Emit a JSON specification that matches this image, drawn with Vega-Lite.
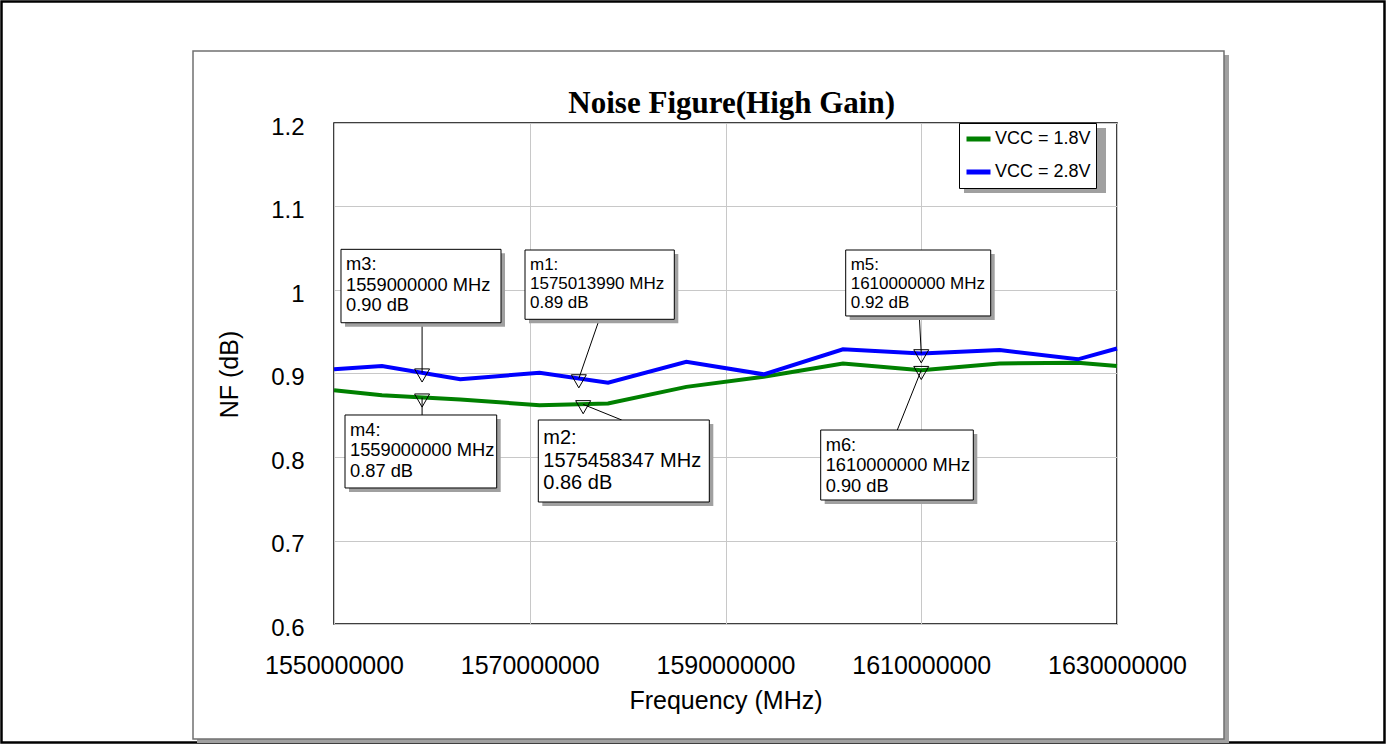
{
  "$schema": "https://vega.github.io/schema/vega-lite/v6.json",
  "width": 783,
  "height": 501,
  "autosize": {"type": "none"},
  "padding": {"left": 334, "top": 123, "right": 274, "bottom": 120},
  "background": "white",
  "config": {
    "view": {"stroke": "#000", "strokeWidth": 1.5},
    "font": "Liberation Sans",
    "axis": {
      "domain": false,
      "ticks": false,
      "tickSize": 0,
      "grid": true,
      "gridColor": "#c8c8c8",
      "gridWidth": 1,
      "labelColor": "#000",
      "titleColor": "#000",
      "labelFont": "Liberation Sans",
      "titleFont": "Liberation Sans",
      "titleFontWeight": "normal"
    }
  },
  "datasets": {
    "nf": [
      {"series": "VCC = 1.8V", "freq": 1550000000, "nf": 0.880},
      {"series": "VCC = 1.8V", "freq": 1554900000, "nf": 0.874},
      {"series": "VCC = 1.8V", "freq": 1562900000, "nf": 0.869},
      {"series": "VCC = 1.8V", "freq": 1571000000, "nf": 0.862},
      {"series": "VCC = 1.8V", "freq": 1578000000, "nf": 0.864},
      {"series": "VCC = 1.8V", "freq": 1586000000, "nf": 0.884},
      {"series": "VCC = 1.8V", "freq": 1593900000, "nf": 0.896},
      {"series": "VCC = 1.8V", "freq": 1602000000, "nf": 0.912},
      {"series": "VCC = 1.8V", "freq": 1610000000, "nf": 0.904},
      {"series": "VCC = 1.8V", "freq": 1618000000, "nf": 0.912},
      {"series": "VCC = 1.8V", "freq": 1626000000, "nf": 0.913},
      {"series": "VCC = 1.8V", "freq": 1630000000, "nf": 0.909},
      {"series": "VCC = 2.8V", "freq": 1550000000, "nf": 0.905},
      {"series": "VCC = 2.8V", "freq": 1554900000, "nf": 0.909},
      {"series": "VCC = 2.8V", "freq": 1562900000, "nf": 0.893},
      {"series": "VCC = 2.8V", "freq": 1571000000, "nf": 0.901},
      {"series": "VCC = 2.8V", "freq": 1578000000, "nf": 0.889},
      {"series": "VCC = 2.8V", "freq": 1586000000, "nf": 0.914},
      {"series": "VCC = 2.8V", "freq": 1593900000, "nf": 0.899},
      {"series": "VCC = 2.8V", "freq": 1602000000, "nf": 0.929},
      {"series": "VCC = 2.8V", "freq": 1610000000, "nf": 0.924},
      {"series": "VCC = 2.8V", "freq": 1618000000, "nf": 0.928},
      {"series": "VCC = 2.8V", "freq": 1626000000, "nf": 0.917},
      {"series": "VCC = 2.8V", "freq": 1630000000, "nf": 0.930}
    ],
    "markers": [
      {"marker": "m1", "freq": 1575013990, "nf": 0.894, "callout_f0": 1569515000, "callout_f1": 1584769000, "callout_top": 1.0479, "callout_bottom": 0.9649, "lead_f": 1577106000, "lead_nf": 0.9649},
      {"marker": "m2", "freq": 1575458347, "nf": 0.863, "callout_f0": 1570874000, "callout_f1": 1588345000, "callout_top": 0.8443, "callout_bottom": 0.7461, "lead_f": 1579395000, "lead_nf": 0.8443},
      {"marker": "m3", "freq": 1559000000, "nf": 0.901, "callout_f0": 1550715000, "callout_f1": 1567063000, "callout_top": 1.0487, "callout_bottom": 0.9608, "lead_f": 1559000000, "lead_nf": 0.9608},
      {"marker": "m4", "freq": 1559000000, "nf": 0.871, "callout_f0": 1551124000, "callout_f1": 1566623000, "callout_top": 0.8503, "callout_bottom": 0.7629, "lead_f": 1559000000, "lead_nf": 0.8503},
      {"marker": "m5", "freq": 1610000000, "nf": 0.924, "callout_f0": 1602281000, "callout_f1": 1617096000, "callout_top": 1.0479, "callout_bottom": 0.9689, "lead_f": 1609801000, "lead_nf": 0.9689},
      {"marker": "m6", "freq": 1610000000, "nf": 0.904, "callout_f0": 1599727000, "callout_f1": 1615318000, "callout_top": 0.8323, "callout_bottom": 0.7485, "lead_f": 1607553000, "lead_nf": 0.8323}
    ]
  },
  "layer": [
    {
      "data": {"values": [{}]},
      "mark": {"type": "rect", "filled": false, "color": "#000", "strokeWidth": 2.5},
      "encoding": {
        "x": {"datum": 1516028109, "type": "quantitative"},
        "x2": {"datum": 1657330741},
        "y": {"datum": 1.345509, "type": "quantitative"},
        "y2": {"datum": 0.458084}
      }
    },
    {
      "data": {"values": [{}]},
      "mark": {"type": "rect", "color": "#a0a0a0"},
      "encoding": {
        "x": {"datum": 1640932279, "type": "quantitative"},
        "x2": {"datum": 1641443135},
        "y": {"datum": 1.281437, "type": "quantitative"},
        "y2": {"datum": 0.457485}
      }
    },
    {
      "data": {"values": [{}]},
      "mark": {"type": "rect", "color": "#a0a0a0"},
      "encoding": {
        "x": {"datum": 1536002559, "type": "quantitative"},
        "x2": {"datum": 1641443135},
        "y": {"datum": 0.462275, "type": "quantitative"},
        "y2": {"datum": 0.457485}
      }
    },
    {
      "data": {"values": [{}]},
      "mark": {"type": "rect", "filled": false, "color": "#707070", "strokeWidth": 1.5},
      "encoding": {
        "x": {"datum": 1535593875, "type": "quantitative"},
        "x2": {"datum": 1640932279},
        "y": {"datum": 1.28623, "type": "quantitative"},
        "y2": {"datum": 0.46228}
      }
    },
    {
      "data": {"name": "nf"},
      "mark": {"type": "line", "strokeWidth": 4},
      "encoding": {
        "x": {
          "field": "freq",
          "type": "quantitative",
          "scale": {"domain": [1550000000, 1630000000], "nice": false, "zero": false},
          "axis": {
            "title": "Frequency (MHz)",
            "values": [1550000000, 1570000000, 1590000000, 1610000000, 1630000000],
            "format": "d",
            "labelFlush": false,
            "labelOverlap": false,
            "labelFontSize": 25,
            "labelBaseline": "alphabetic",
            "labelPadding": 49,
            "titleFontSize": 25,
            "titleX": 391.5,
            "titleY": 84,
            "titleBaseline": "alphabetic",
            "titleAlign": "center",
            "titleAngle": 0
          }
        },
        "y": {
          "field": "nf",
          "type": "quantitative",
          "scale": {"domain": [0.6, 1.2], "nice": false, "zero": false},
          "axis": {
            "title": "NF (dB)",
            "values": [0.6, 0.7, 0.8, 0.9, 1, 1.1, 1.2],
            "format": "~g",
            "labelFlush": false,
            "labelOverlap": false,
            "labelFontSize": 24,
            "labelBaseline": "alphabetic",
            "labelOffset": 11,
            "labelPadding": 30,
            "titleFontSize": 25,
            "titleAngle": -90,
            "titleX": -96.5,
            "titleY": 251,
            "titleBaseline": "alphabetic",
            "titleAlign": "center"
          }
        },
        "color": {
          "field": "series",
          "type": "nominal",
          "scale": {"domain": ["VCC = 1.8V", "VCC = 2.8V"], "range": ["#008000", "#0000ff"]},
          "legend": {
            "orient": "none",
            "legendX": 625,
            "legendY": 0,
            "title": null,
            "fillColor": "#ffffff",
            "strokeColor": "#000000",
            "padding": 5,
            "symbolType": "stroke",
            "symbolSize": 576,
            "symbolStrokeWidth": 5,
            "clipHeight": 22,
            "rowPadding": 11,
            "labelOffset": 2,
            "labelFontSize": 18,
            "labelFont": "Liberation Sans",
            "labelColor": "#000"
          }
        }
      }
    },
    {
      "data": {"name": "markers"},
      "mark": {"type": "rule", "color": "#000", "strokeWidth": 1},
      "encoding": {
        "x": {"field": "freq", "type": "quantitative"},
        "y": {"field": "nf", "type": "quantitative"},
        "x2": {"field": "lead_f"},
        "y2": {"field": "lead_nf"}
      }
    },
    {
      "data": {"name": "markers"},
      "mark": {"type": "rect", "color": "#a0a0a0", "xOffset": 4, "x2Offset": 4, "yOffset": 4, "y2Offset": 4},
      "encoding": {
        "x": {"field": "callout_f0", "type": "quantitative"},
        "x2": {"field": "callout_f1"},
        "y": {"field": "callout_top", "type": "quantitative"},
        "y2": {"field": "callout_bottom"}
      }
    },
    {
      "data": {"name": "markers"},
      "mark": {"type": "rect", "fill": "#ffffff", "stroke": "#000000", "strokeWidth": 1},
      "encoding": {
        "x": {"field": "callout_f0", "type": "quantitative"},
        "x2": {"field": "callout_f1"},
        "y": {"field": "callout_top", "type": "quantitative"},
        "y2": {"field": "callout_bottom"}
      }
    },
    {
      "data": {"name": "markers"},
      "transform": [
        {"filter": "datum.marker === 'm1' || datum.marker === 'm5'"},
        {"calculate": "[datum.marker + ':', format(datum.freq, 'd') + ' MHz', format(datum.nf, '.2f') + ' dB']", "as": "lines"}
      ],
      "mark": {"type": "text", "align": "left", "baseline": "top", "dx": 5, "dy": 7, "fontSize": 17, "lineHeight": 19, "color": "#000", "font": "Liberation Sans"},
      "encoding": {
        "x": {"field": "callout_f0", "type": "quantitative"},
        "y": {"field": "callout_top", "type": "quantitative"},
        "text": {"field": "lines"}
      }
    },
    {
      "data": {"name": "markers"},
      "transform": [
        {"filter": "datum.marker === 'm3' || datum.marker === 'm4' || datum.marker === 'm6'"},
        {"calculate": "[datum.marker + ':', format(datum.freq, 'd') + ' MHz', format(datum.nf, '.2f') + ' dB']", "as": "lines"}
      ],
      "mark": {"type": "text", "align": "left", "baseline": "top", "dx": 5, "dy": 7, "fontSize": 18.3, "lineHeight": 20.3, "color": "#000", "font": "Liberation Sans"},
      "encoding": {
        "x": {"field": "callout_f0", "type": "quantitative"},
        "y": {"field": "callout_top", "type": "quantitative"},
        "text": {"field": "lines"}
      }
    },
    {
      "data": {"name": "markers"},
      "transform": [
        {"filter": "datum.marker === 'm2'"},
        {"calculate": "[datum.marker + ':', format(datum.freq, 'd') + ' MHz', format(datum.nf, '.2f') + ' dB']", "as": "lines"}
      ],
      "mark": {"type": "text", "align": "left", "baseline": "top", "dx": 5, "dy": 8, "fontSize": 20, "lineHeight": 22.7, "color": "#000", "font": "Liberation Sans"},
      "encoding": {
        "x": {"field": "callout_f0", "type": "quantitative"},
        "y": {"field": "callout_top", "type": "quantitative"},
        "text": {"field": "lines"}
      }
    },
    {
      "data": {"name": "markers"},
      "mark": {"type": "point", "shape": "M-1,-0.5L1,-0.5L0,1.25Z", "size": 225, "filled": false, "color": "#000", "strokeWidth": 1, "opacity": 1},
      "encoding": {
        "x": {"field": "freq", "type": "quantitative"},
        "y": {"field": "nf", "type": "quantitative"}
      }
    },
    {
      "data": {"values": [{}]},
      "mark": {"type": "rect", "color": "#a0a0a0"},
      "encoding": {
        "x": {"datum": 1614367793, "type": "quantitative"},
        "x2": {"datum": 1628876089},
        "y": {"datum": 1.194012, "type": "quantitative"},
        "y2": {"datum": 1.116168}
      }
    },
    {
      "data": {"values": [{}]},
      "mark": {"type": "text", "align": "center", "baseline": "alphabetic", "font": "Liberation Serif", "fontSize": 31, "fontWeight": "bold", "color": "#000"},
      "encoding": {
        "x": {"datum": 1590633446, "type": "quantitative"},
        "y": {"datum": 1.212335, "type": "quantitative"},
        "text": {"value": "Noise Figure(High Gain)"}
      }
    }
  ]
}
